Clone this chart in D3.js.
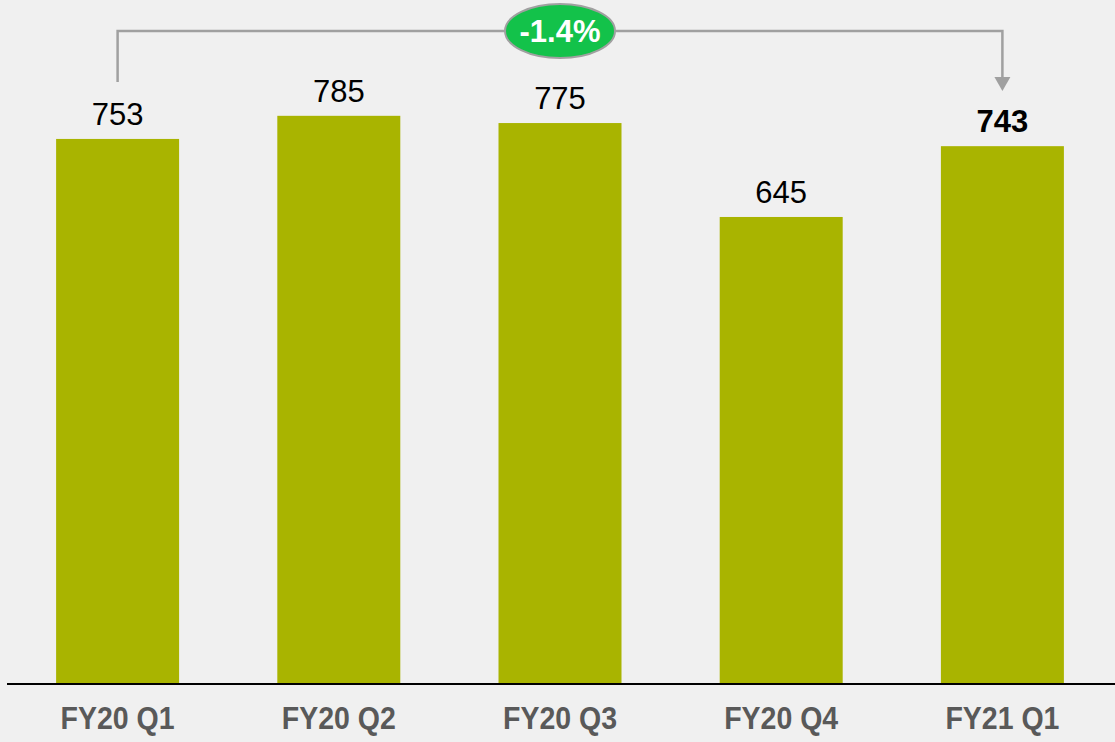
<!DOCTYPE html>
<html><head><meta charset="utf-8">
<script src="https://cdn.jsdelivr.net/npm/d3@7"></script>
<style>body{margin:0;background:#f0f0f0;}svg{display:block;}</style>
</head><body>
<svg id="c" width="1115" height="742"></svg>
<script>
const categories = ["FY20 Q1","FY20 Q2","FY20 Q3","FY20 Q4","FY21 Q1"];
const values = [753, 785, 775, 645, 743];
const changeLabel = "-1.4%";

const W = 1115, H = 742;
const svg = d3.select("#c");
svg.append("rect").attr("width",W).attr("height",H).attr("fill","#f0f0f0");

const baseY = 683;
const x = d3.scaleBand().domain(categories).range([7, 1113]).paddingInner(0.444).paddingOuter(0.222);
const y = d3.scaleLinear().domain([0, 945.3]).range([baseY, 0]);

svg.selectAll("rect.bar").data(values).join("rect").attr("class","bar")
  .attr("x",(d,i)=>x(categories[i])).attr("width",x.bandwidth())
  .attr("y",d=>y(d)).attr("height",d=>baseY-y(d)).attr("fill","#a9b400");

svg.selectAll("text.val").data(values).join("text").attr("class","val")
  .attr("x",(d,i)=>x(categories[i])+x.bandwidth()/2)
  .attr("y",d=>y(d)-14)
  .attr("text-anchor","middle")
  .attr("font-family","'Liberation Sans', Arial, sans-serif")
  .attr("font-size",31)
  .attr("font-weight",(d,i)=>i===values.length-1?"bold":"normal")
  .attr("fill","#000")
  .text(d=>d);

// axis
const xAxis = d3.axisBottom(x).tickSize(0).tickPadding(0);
const gx = svg.append("g").attr("transform",`translate(0,${baseY})`).call(xAxis);
gx.select(".domain").remove();
svg.append("line").attr("x1",7).attr("x2",1115).attr("y1",baseY+1).attr("y2",baseY+1)
  .attr("stroke","#000").attr("stroke-width",2);
gx.selectAll(".tick text")
  .attr("y",46).attr("dy",0)
  .attr("font-family","'Liberation Sans', Arial, sans-serif")
  .attr("font-size",31).attr("font-weight","bold").attr("fill","#595959")
  .attr("textLength",114).attr("lengthAdjust","spacingAndGlyphs");

// bracket
const x0 = x(categories[0])+x.bandwidth()/2;
const x1 = x(categories[4])+x.bandwidth()/2;
const topY = 31;
svg.append("path")
  .attr("d",`M${x0},82 L${x0},${topY} L${x1},${topY} L${x1},78`)
  .attr("fill","none").attr("stroke","#a0a0a0").attr("stroke-width",2.5);
svg.append("path")
  .attr("d",`M${x1-8},77 L${x1+8},77 L${x1},91 Z`).attr("fill","#a0a0a0");

const cx = (x(categories[2])+x.bandwidth()/2);
svg.append("ellipse").attr("cx",cx).attr("cy",topY).attr("rx",55).attr("ry",27)
  .attr("fill","#13c24a").attr("stroke","#a0a0a0").attr("stroke-width",2);
svg.append("text").attr("x",cx).attr("y",topY+11).attr("text-anchor","middle")
  .attr("font-family","'Liberation Sans', Arial, sans-serif")
  .attr("font-size",31).attr("font-weight","bold").attr("fill","#fff")
  .text(changeLabel);
</script>
</body></html>
